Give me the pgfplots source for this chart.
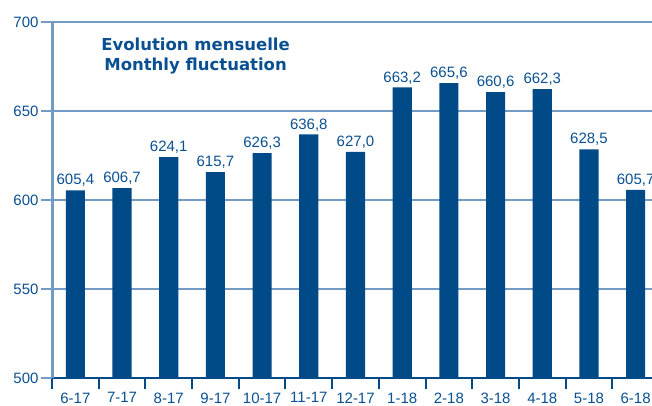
\documentclass[border=0pt]{standalone}
\usepackage{pgfplots}
\pgfplotsset{compat=1.18}
\usepackage{fontspec}
\setmainfont{Liberation Sans}
\newfontfamily\titlefont{DejaVu Sans}
\definecolor{barblue}{RGB}{0,74,135}
\definecolor{txtblue}{RGB}{10,80,145}
\definecolor{gridblue}{RGB}{115,155,195}
\begin{document}
\begin{tikzpicture}
\useasboundingbox (-52pt,-28pt) rectangle (600pt,378pt);
\begin{axis}[
  scale only axis,
  width=607pt, height=356pt,
  xmin=-0.5, xmax=12.5,
  ymin=500, ymax=700,
  axis x line=bottom, axis y line=left,
  x axis line style={-, barblue, line width=2pt},
  y axis line style={-, gridblue, line width=3pt},
  xtick={-0.5,0.5,...,12.5},
  x tick label as interval,
  xticklabels={6-17,7-17,8-17,9-17,10-17,11-17,12-17,1-18,2-18,3-18,4-18,5-18,6-18},
  ytick={500,550,600,650,700},
  tick align=outside,
  major tick length=11pt,
  xtick style={barblue, line width=2pt},
  ytick style={gridblue, line width=2pt},
  ymajorgrids,
  grid style={gridblue, line width=2pt},
  tick label style={font=\fontsize{15}{18}\selectfont, text=txtblue},
  yticklabel style={xshift=1pt},
  xticklabel style={yshift=0pt},
  /pgf/number format/assume math mode=true,
  ybar, bar width=0.41,
  nodes near coords,
  nodes near coords style={font=\fontsize{15}{18}\selectfont, text=txtblue,
    /pgf/number format/.cd, fixed, fixed zerofill, precision=1, use comma, 1000 sep={}},
  clip=false,
]
\addplot[fill=barblue, draw=none] coordinates {
(0,605.4) (1,606.7) (2,624.1) (3,615.7) (4,626.3) (5,636.8) (6,627.0)
(7,663.2) (8,665.6) (9,660.6) (10,662.3) (11,628.5) (12,605.7)};
\node[align=center, text=txtblue, font=\titlefont\bfseries\fontsize{16.5}{20.5}\selectfont]
  at (rel axis cs:0.2365,0.905) {Evolution mensuelle\\Monthly fluctuation};
\end{axis}
\end{tikzpicture}
\end{document}
